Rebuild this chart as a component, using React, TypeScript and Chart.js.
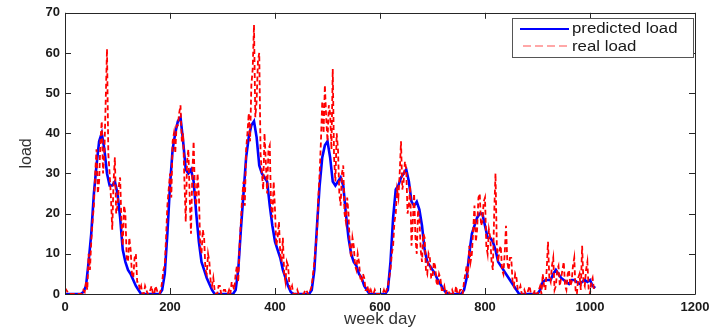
import React, { useEffect, useRef } from "react";
import { Chart, registerables } from "chart.js";

Chart.register(...registerables);

// sample spacing along the "week day" axis for each series
const PRED_STEP = 5;
const REAL_STEP = 2.5;

const predictedLoad = [
  0, 0, 0, 0, 0, 0, 0, 0.5, 2, 8,
  15, 25, 32, 38, 40, 36, 30, 27, 27, 28,
  25, 19, 11, 8, 6, 5, 3.5, 2, 1, 0,
  0, 0, 0, 0, 0, 0, 0, 1, 5, 15,
  27, 36, 40, 43, 44, 38, 31, 30, 31, 28,
  20, 13, 8, 6, 4, 2.5, 1, 0, 0, 0,
  0, 0, 0, 0, 0, 1, 6, 16, 25, 34,
  39, 42, 43, 39, 32, 30, 29, 28, 22, 17,
  13, 11, 9, 6, 4, 2, 0.5, 0, 0, 0,
  0, 0, 0, 0, 1, 6, 17, 27, 34, 37,
  38, 34, 28, 27, 28, 29, 27, 20, 14, 10,
  8, 7, 5, 4, 2, 1, 0, 0, 0, 0,
  0, 0, 0, 1, 8, 19, 26, 27, 29, 30,
  31, 28, 23, 22, 23, 21, 17, 11, 8, 7,
  6, 5, 3.5, 2.5, 1.3, 0.5, 0, 0, 0, 0,
  0, 0, 1, 4, 10, 15, 17, 19, 20, 20,
  17, 14, 14, 13, 11, 8, 7, 6, 5, 4,
  3, 2, 1, 0, 0, 0, 0, 0, 0, 0,
  0, 1, 3, 3.5, 3.5, 3.5, 5, 6, 5, 4,
  3.5, 3, 2.5, 3.5, 3.5, 3, 2.5, 3, 3.5, 3,
  3.5, 2, 1.5,
];

const realLoad = [
  1.5, 1, 0.5, 0, 0, 0, 0, 0, 0, 0, 0, 0, 0, 0, 1, 0.5, 3, 1, 10, 6,
  13, 18, 22, 30, 36, 25, 28, 38, 43, 30, 35, 48, 61, 35, 30, 24, 16, 28, 34, 20,
  22, 27, 29, 18, 12, 22, 20, 9, 8, 14, 11, 5, 4, 9, 10, 3, 3, 1, 2, 0,
  0, 2, 1, 0, 0, 1, 2, 0, 0, 2, 1, 0, 0, 1, 3, 6, 7, 14, 22, 26,
  30, 24, 38, 40, 35, 42, 42, 45, 47, 38, 40, 28, 18, 33, 36, 24, 15, 30, 38, 25,
  22, 30, 25, 12, 10, 16, 14, 6, 5, 10, 8, 3, 2, 4, 1, 0, 0, 2, 2, 0,
  0, 1, 1, 0, 0, 1, 0, 3, 2, 1, 5, 7, 3, 12, 18, 24, 28, 22, 36, 40,
  45, 38, 52, 56, 67, 44, 48, 58, 60, 35, 30, 26, 40, 33, 25, 36, 37, 22, 19, 28,
  21, 12, 14, 18, 10, 8, 14, 5, 3, 8, 7, 2, 1, 2, 0, 0, 0, 1, 0, 0,
  0, 0, 0, 1, 1, 0, 0, 1, 2, 5, 8, 12, 15, 24, 30, 38, 48, 40, 52, 44,
  38, 47, 45, 36, 56, 34, 28, 40, 36, 25, 22, 30, 32, 20, 18, 24, 20, 12, 9, 14,
  12, 7, 6, 10, 8, 4, 3, 5, 4, 1, 1, 2, 0, 1, 0, 0, 1, 0, 0, 0,
  0, 0, 0, 1, 0, 1, 2, 4, 6, 10, 12, 18, 20, 26, 24, 30, 38, 26, 28, 33,
  31, 20, 22, 27, 12, 18, 25, 14, 10, 21, 19, 11, 8, 15, 14, 6, 5, 10, 9, 4,
  4, 8, 7, 3, 2, 5, 4, 1, 1, 2, 0, 1, 1, 0, 0, 1, 0, 0, 2, 0,
  0, 1, 1, 0, 3, 5, 7, 4, 12, 8, 10, 16, 22, 13, 16, 24, 25, 17, 18, 23,
  24, 12, 10, 16, 14, 8, 6, 20, 30, 12, 8, 11, 12, 6, 5, 10, 17, 8, 6, 9,
  9, 3, 2, 5, 4, 1, 1, 2, 0, 0, 1, 0, 0, 1, 2, 0, 0, 0, 1, 0,
  0, 1, 2, 0, 5, 2, 1, 6, 13, 4, 3, 7, 9, 1, 2, 6, 7, 2, 4, 6,
  8, 2, 1, 5, 6, 2, 3, 7, 9, 1, 0, 4, 5, 1, 12, 3, 2, 6, 8, 1,
  0, 3, 4, 1, 1,
];

const xTicks = [0, 200, 400, 600, 800, 1000, 1200];
const yTicks = [0, 10, 20, 30, 40, 50, 60, 70];
const seriesNames = ["predicted load", "real load"];
const xTitle = "week day";
const yTitle = "load";

const FONT = "'Liberation Sans', Arial, Helvetica, sans-serif";
const BLUE = "#0000ff";
const RED = "#ff0000";
const FRAME = "#262626";

const framePlugin = {
  id: "matlabFrame",
  afterDraw(chart: any) {
    const { ctx, chartArea } = chart;
    const { left, right, top, bottom } = chartArea;
    const xs = chart.scales.x;
    const ys = chart.scales.y;
    ctx.save();
    ctx.strokeStyle = FRAME;
    ctx.lineWidth = 1;
    ctx.setLineDash([]);
    ctx.beginPath();
    ctx.rect(Math.round(left) + 0.5, Math.round(top) + 0.5, Math.round(right - left), Math.round(bottom - top));
    ctx.stroke();
    const tl = 6;
    ctx.beginPath();
    xTicks.forEach((v) => {
      const px = Math.round(xs.getPixelForValue(v)) + 0.5;
      ctx.moveTo(px, bottom);
      ctx.lineTo(px, bottom - tl);
      ctx.moveTo(px, top);
      ctx.lineTo(px, top + tl);
    });
    yTicks.forEach((v) => {
      const py = Math.round(ys.getPixelForValue(v)) + 0.5;
      ctx.moveTo(left, py);
      ctx.lineTo(left + tl, py);
      ctx.moveTo(right, py);
      ctx.lineTo(right - tl, py);
    });
    ctx.stroke();

    // legend
    const lx = 512, ly = 18, lw = 181, lh = 39;
    ctx.fillStyle = "#ffffff";
    ctx.fillRect(lx, ly, lw, lh);
    ctx.strokeStyle = "#555555";
    ctx.strokeRect(lx + 0.5, ly + 0.5, lw, lh);
    ctx.lineWidth = 2;
    ctx.strokeStyle = BLUE;
    ctx.beginPath();
    ctx.moveTo(520, 29);
    ctx.lineTo(569, 29);
    ctx.stroke();
    ctx.lineWidth = 1.2;
    ctx.strokeStyle = "#ff5050";
    ctx.setLineDash([8, 4]);
    ctx.beginPath();
    ctx.moveTo(523, 46);
    ctx.lineTo(569, 46);
    ctx.stroke();
    ctx.setLineDash([]);
    ctx.fillStyle = "#1a1a1a";
    ctx.font = `14px ${FONT}`;
    ctx.textBaseline = "middle";
    ctx.textAlign = "left";
    const drawStretched = (t: string, x: number, y: number) => {
      ctx.save();
      ctx.translate(x, y);
      ctx.scale(1.2, 1);
      ctx.fillText(t, 0, 0);
      ctx.restore();
    };
    drawStretched(seriesNames[0], 572, 29);
    drawStretched(seriesNames[1], 572, 47);
    ctx.restore();
  },
};

export default function App() {
  const canvasRef = useRef<HTMLCanvasElement | null>(null);

  useEffect(() => {
    const canvas = canvasRef.current;
    if (!canvas) return;
    const toPoints = (arr: number[], step: number) => arr.map((v, i) => ({ x: i * step, y: v }));
    const chart = new Chart(canvas, {
      type: "line",
      data: {
        datasets: [
          {
            label: seriesNames[1],
            data: toPoints(realLoad, REAL_STEP),
            borderColor: RED,
            borderWidth: 1.8,
            borderDash: [5, 3],
            pointRadius: 0,
            tension: 0,
            order: 0,
          },
          {
            label: seriesNames[0],
            data: toPoints(predictedLoad, PRED_STEP),
            borderColor: BLUE,
            borderWidth: 2.6,
            pointRadius: 0,
            tension: 0,
            order: 1,
          },
        ],
      },
      options: {
        animation: false,
        responsive: false,
        maintainAspectRatio: false,
        layout: { padding: { top: 10, right: 27, bottom: 0, left: 0 } },
        plugins: {
          legend: { display: false },
          tooltip: { enabled: false },
        },
        scales: {
          x: {
            type: "linear",
            min: 0,
            max: 1200,
            afterBuildTicks: (s: any) => {
              s.ticks = xTicks.map((v) => ({ value: v }));
            },
            afterFit: (s: any) => {
              s.height = 37;
            },
            grid: { display: false, drawTicks: false },
            border: { display: false },
            ticks: {
              padding: 6,
              color: "#1a1a1a",
              font: { family: FONT, size: 13, weight: "bold" },
              maxRotation: 0,
              callback: (v: any) => String(v),
            },
            title: {
              display: true,
              text: xTitle,
              color: "#333333",
              font: { family: FONT, size: 17 },
              padding: { top: 0, bottom: 1 },
            },
          },
          y: {
            type: "linear",
            min: 0,
            max: 70,
            afterBuildTicks: (s: any) => {
              s.ticks = yTicks.map((v) => ({ value: v }));
            },
            afterFit: (s: any) => {
              s.width = 65;
            },
            grid: { display: false, drawTicks: false },
            border: { display: false },
            ticks: {
              padding: 5,
              color: "#1a1a1a",
              font: { family: FONT, size: 13, weight: "bold" },
              callback: (v: any) => String(v),
            },
            title: {
              display: true,
              text: yTitle,
              color: "#333333",
              font: { family: FONT, size: 16 },
              padding: { top: 17, bottom: 0 },
            },
          },
        },
      },
      plugins: [framePlugin],
    });
    return () => chart.destroy();
  }, []);

  return (
    <div style={{ position: "absolute", left: 0, top: 0, width: 722, height: 331, background: "#fff" }}>
      <canvas ref={canvasRef} width={722} height={331} style={{ display: "block", width: 722, height: 331 }} />
    </div>
  );
}
